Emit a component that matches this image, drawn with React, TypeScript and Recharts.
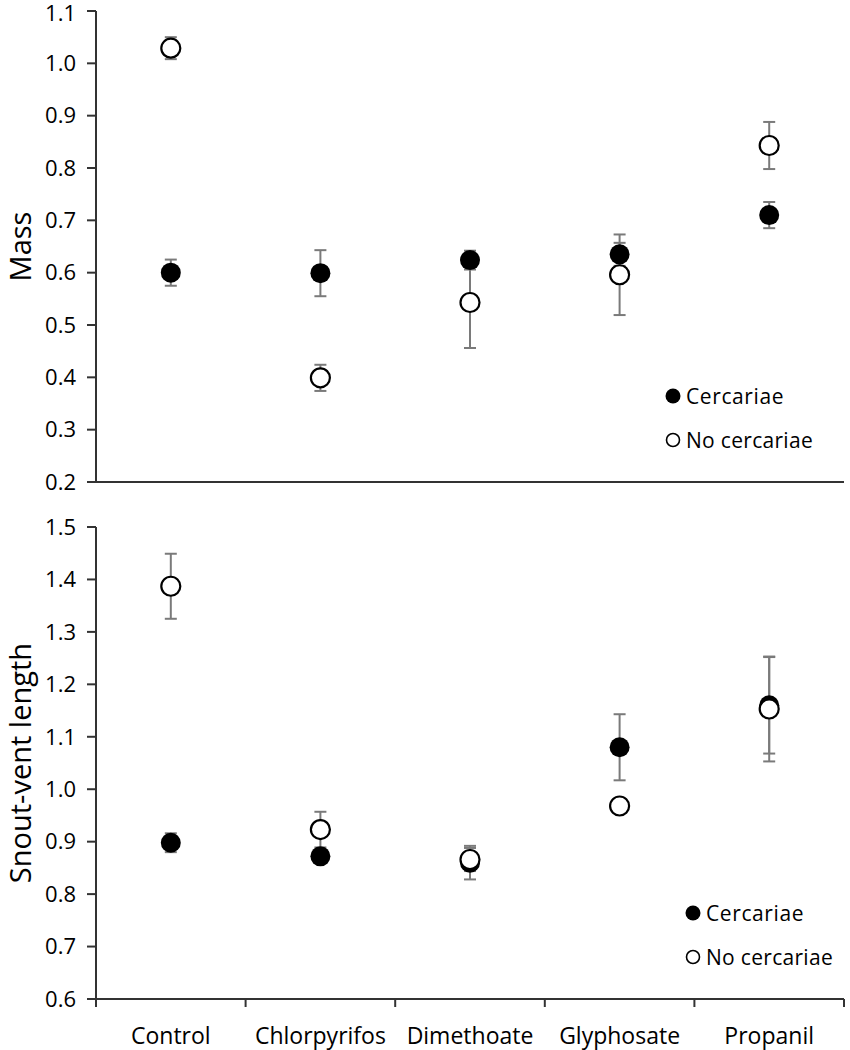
import React from 'react';
import { ScatterChart, Scatter, XAxis, YAxis, ErrorBar } from 'recharts';

const categories = ['Control', 'Chlorpyrifos', 'Dimethoate', 'Glyphosate', 'Propanil'];

// Mass panel
const massCercariae = [0.600, 0.599, 0.624, 0.635, 0.710];
const massCercariaeErr = [0.025, 0.044, 0.018, 0.022, 0.025];
const massNoCercariae = [1.029, 0.399, 0.543, 0.596, 0.843];
const massNoCercariaeErr = [0.021, 0.025, 0.087, 0.077, 0.045];

// Snout-vent length panel
const svlCercariae = [0.898, 0.872, 0.860, 1.080, 1.160];
const svlCercariaeErr = [0.018, 0.010, 0.032, 0.063, 0.092];
const svlNoCercariae = [1.387, 0.923, 0.866, 0.968, 1.153];
const svlNoCercariaeErr = [0.062, 0.034, 0.022, 0.008, 0.100];

const massTicks = [0.2, 0.3, 0.4, 0.5, 0.6, 0.7, 0.8, 0.9, 1.0, 1.1];
const svlTicks = [0.6, 0.7, 0.8, 0.9, 1.0, 1.1, 1.2, 1.3, 1.4, 1.5];
const boundaryTicks = [0, 1, 2, 3, 4, 5];

const FONT = '"Open Sans", "DejaVu Sans", sans-serif';
const AXIS = '#333333';
const ERR = '#7a7a7a';

const WIDTH = 850;
const Y_AXIS_W = 96;
const RIGHT = 6;
const HALF_BAND = (WIDTH - Y_AXIS_W - RIGHT) / categories.length / 2;

const rows = (vals: number[], errs: number[]) =>
  categories.map((name, i) => ({ name, x: i + 0.5, y: vals[i], err: errs[i] }));

const FilledDot = (props: any) => <circle cx={props.cx} cy={props.cy} r={10} fill="#000" />;
const OpenDot = (props: any) => (
  <circle cx={props.cx} cy={props.cy} r={9.5} fill="#fff" stroke="#000" strokeWidth={2.2} />
);
const NoDot = () => <g />;

// category name sits between two boundary ticks
const CategoryTick = (props: any) => {
  const i = props.payload?.value;
  if (i == null || i >= categories.length) return <g />;
  return (
    <text
      x={props.x + HALF_BAND}
      y={props.y + 37}
      textAnchor="middle"
      fontFamily={FONT}
      fontSize={23}
      fill="#000"
    >
      {categories[i]}
    </text>
  );
};

const AxisTitle = (props: any) => {
  const vb = props.viewBox || { x: 0, y: 0, width: 0, height: 0 };
  const cx = vb.x + 19;
  const cy = vb.y + vb.height / 2;
  return (
    <text
      x={cx}
      y={cy}
      transform={`rotate(-90, ${cx}, ${cy})`}
      textAnchor="middle"
      dominantBaseline="central"
      fontFamily={FONT}
      fontSize={29}
      fill="#000"
    >
      {props.value}
    </text>
  );
};

const LegendBox = ({ left, top }: { left: number; top: number }) => (
  <div
    style={{
      position: 'absolute',
      left,
      top,
      fontFamily: FONT,
      fontSize: 21,
      color: '#000',
      lineHeight: '44px',
    }}
  >
    <div style={{ display: 'flex', alignItems: 'center' }}>
      <svg width={18} height={18} style={{ marginRight: 4 }}>
        <circle cx={9} cy={9} r={7.5} fill="#000" />
      </svg>
      <span style={{ letterSpacing: 0.6 }}>Cercariae</span>
    </div>
    <div style={{ display: 'flex', alignItems: 'center' }}>
      <svg width={18} height={18} style={{ marginRight: 4 }}>
        <circle cx={9} cy={9} r={6.5} fill="#fff" stroke="#000" strokeWidth={1.6} />
      </svg>
      <span style={{ letterSpacing: 0.3 }}>No cercariae</span>
    </div>
  </div>
);

const tickStyle = { fontFamily: FONT, fontSize: 22, fill: '#000' };

const Panel = ({ height, marginTop, ticks, title, filled, open, showCategories }: any) => (
  <ScatterChart
    width={WIDTH}
    height={height}
    margin={{ top: marginTop, right: RIGHT, bottom: 0, left: 0 }}
  >
    <XAxis
      dataKey="x"
      type="number"
      domain={[0, 5]}
      ticks={boundaryTicks}
      tick={showCategories ? CategoryTick : false}
      tickSize={8}
      tickMargin={0}
      height={showCategories ? 51 : 23}
      axisLine={{ stroke: AXIS, strokeWidth: 2 }}
      tickLine={{ stroke: AXIS, strokeWidth: 2 }}
    />
    <YAxis
      dataKey="y"
      type="number"
      domain={[ticks[0], ticks[ticks.length - 1]]}
      ticks={ticks}
      width={Y_AXIS_W}
      tickSize={9}
      tickMargin={11}
      tickFormatter={(v: number) => v.toFixed(1)}
      tick={tickStyle}
      axisLine={{ stroke: AXIS, strokeWidth: 2 }}
      tickLine={{ stroke: AXIS, strokeWidth: 2 }}
      label={{ value: title, content: AxisTitle }}
    />
    {/* error bars first so every marker sits above them */}
    <Scatter data={filled} shape={NoDot} isAnimationActive={false}>
      <ErrorBar dataKey="err" direction="y" width={6} stroke={ERR} strokeWidth={2} />
    </Scatter>
    <Scatter data={open} shape={NoDot} isAnimationActive={false}>
      <ErrorBar dataKey="err" direction="y" width={6} stroke={ERR} strokeWidth={2} />
    </Scatter>
    <Scatter data={filled} shape={FilledDot} isAnimationActive={false} />
    <Scatter data={open} shape={OpenDot} isAnimationActive={false} />
  </ScatterChart>
);

export default function App() {
  return (
    <div style={{ position: 'absolute', left: 0, top: 0, width: 850, height: 1050, background: '#fff' }}>
      <div style={{ position: 'absolute', left: 0, top: 0 }}>
        <Panel
          height={505}
          marginTop={11}
          ticks={massTicks}
          title="Mass"
          filled={rows(massCercariae, massCercariaeErr)}
          open={rows(massNoCercariae, massNoCercariaeErr)}
          showCategories={false}
        />
      </div>
      <div style={{ position: 'absolute', left: 0, top: 505 }}>
        <Panel
          height={545}
          marginTop={22}
          ticks={svlTicks}
          title="Snout-vent length"
          filled={rows(svlCercariae, svlCercariaeErr)}
          open={rows(svlNoCercariae, svlNoCercariaeErr)}
          showCategories={true}
        />
      </div>
      <LegendBox left={664} top={374} />
      <LegendBox left={684} top={891} />
    </div>
  );
}
